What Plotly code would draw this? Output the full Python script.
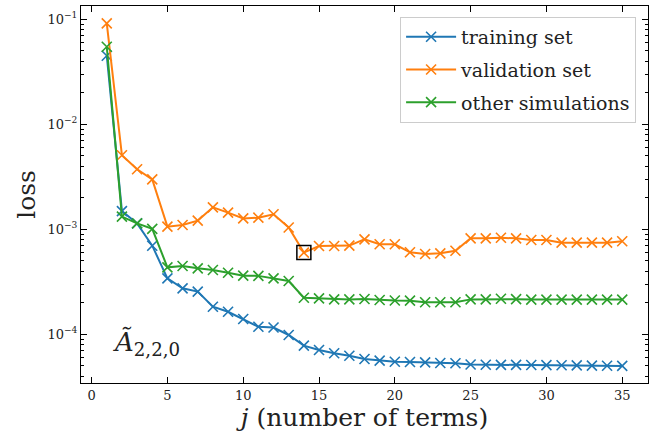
import plotly.graph_objects as go

j = list(range(1, 36))
training = [0.045, 0.00149, 0.00114, 0.000698, 0.000341, 0.000274, 0.000255, 0.000183,
            0.000164, 0.000140, 0.000118, 0.000116, 0.0000985, 0.0000779, 0.0000708,
            0.0000659, 0.0000625, 0.0000582, 0.0000561, 0.0000548, 0.0000545, 0.000054,
            0.0000533, 0.000053, 0.0000515, 0.0000513, 0.0000512, 0.0000511, 0.000051,
            0.0000509, 0.0000507, 0.0000505, 0.0000503, 0.0000502, 0.00005]
validation = [0.0916, 0.00507, 0.00373, 0.00299, 0.00106, 0.0011, 0.00121, 0.00162,
              0.00144, 0.00127, 0.00129, 0.00139, 0.00104, 0.000600, 0.000693,
              0.000693, 0.0007, 0.000803, 0.00072, 0.00072, 0.000604, 0.000582,
              0.00059, 0.000625, 0.00082, 0.00082, 0.00083, 0.00082, 0.00079,
              0.00079, 0.000746, 0.000746, 0.000746, 0.000746, 0.00077]
other = [0.0548, 0.00132, 0.00114, 0.00101, 0.000434, 0.000447, 0.000425, 0.00041,
         0.000386, 0.000362, 0.00036, 0.000341, 0.000322, 0.000223, 0.00022,
         0.000215, 0.000215, 0.000217, 0.000212, 0.00021, 0.000209, 0.000202,
         0.000202, 0.000202, 0.000215, 0.000215, 0.000218, 0.000216, 0.000214,
         0.000214, 0.000214, 0.000214, 0.000214, 0.000214, 0.000214]
series_names = ["training set", "validation set", "other simulations"]
colors = ["#1f77b4", "#ff7f0e", "#2ca02c"]
best_j = 14
x_ticks = [0, 5, 10, 15, 20, 25, 30, 35]
y_tickvals = [1e-4, 1e-3, 1e-2, 1e-1]
y_ticktext = ["10<sup>−4</sup>", "10<sup>−3</sup>", "10<sup>−2</sup>", "10<sup>−1</sup>"]
y_minor = [m * 10.0 ** e for e in range(-5, -1) for m in range(2, 10)]

FONT = "DejaVu Serif"
fig = go.Figure()
for name, ys, c in zip(series_names, [training, validation, other], colors):
    fig.add_trace(go.Scatter(
        x=j, y=ys, mode="lines+markers", name=name, legendgroup=name,
        line=dict(color=c, width=2),
        marker=dict(symbol="x-thin", size=10, line=dict(width=1.6, color=c), color=c),
    ))

fig.add_trace(go.Scatter(
    x=[best_j], y=[validation[best_j - 1]], mode="markers", showlegend=False,
    marker=dict(symbol="square-open", size=14, color="black", line=dict(width=1.5, color="black")),
))

axis_common = dict(
    showline=True, linecolor="black", linewidth=1, mirror="allticks",
    ticks="inside", ticklen=6, tickcolor="black", tickwidth=1,
    showgrid=False, zeroline=False,
    tickfont=dict(family=FONT, size=13, color="#222"),
)

fig.update_xaxes(range=[-0.7, 36.7], tickvals=x_ticks, **axis_common,
                 title=dict(text="<i>j</i> (number of terms)", font=dict(family=FONT, size=25, color="#222"), standoff=4))
fig.update_yaxes(type="log", range=[-4.464, -0.873], tickvals=y_tickvals, ticktext=y_ticktext,
                 minor=dict(ticks="inside", ticklen=3, tickcolor="black", tickwidth=1,
                            tickvals=y_minor, showgrid=False),
                 **axis_common,
                 title=dict(text="loss", font=dict(family=FONT, size=25, color="#222"), standoff=4))

fig.add_annotation(x=0.115, y=0.105, xref="paper", yref="paper", showarrow=False,
                   xanchor="center", yanchor="middle",
                   text="<i>Ã</i><sub>2,2,0</sub>", font=dict(family=FONT, size=26, color="#222"))

fig.update_layout(
    width=654, height=435,
    margin=dict(l=81, r=6, t=6, b=52),
    plot_bgcolor="white", paper_bgcolor="white",
    font=dict(family=FONT, color="#222"),
    legend=dict(x=0.979, y=0.971, xanchor="right", yanchor="top",
                bgcolor="white", bordercolor="#cccccc", borderwidth=1,
                font=dict(family=FONT, size=19, color="#222"), itemwidth=50,
                tracegroupgap=5),
)

fig.write_html("out.html")
